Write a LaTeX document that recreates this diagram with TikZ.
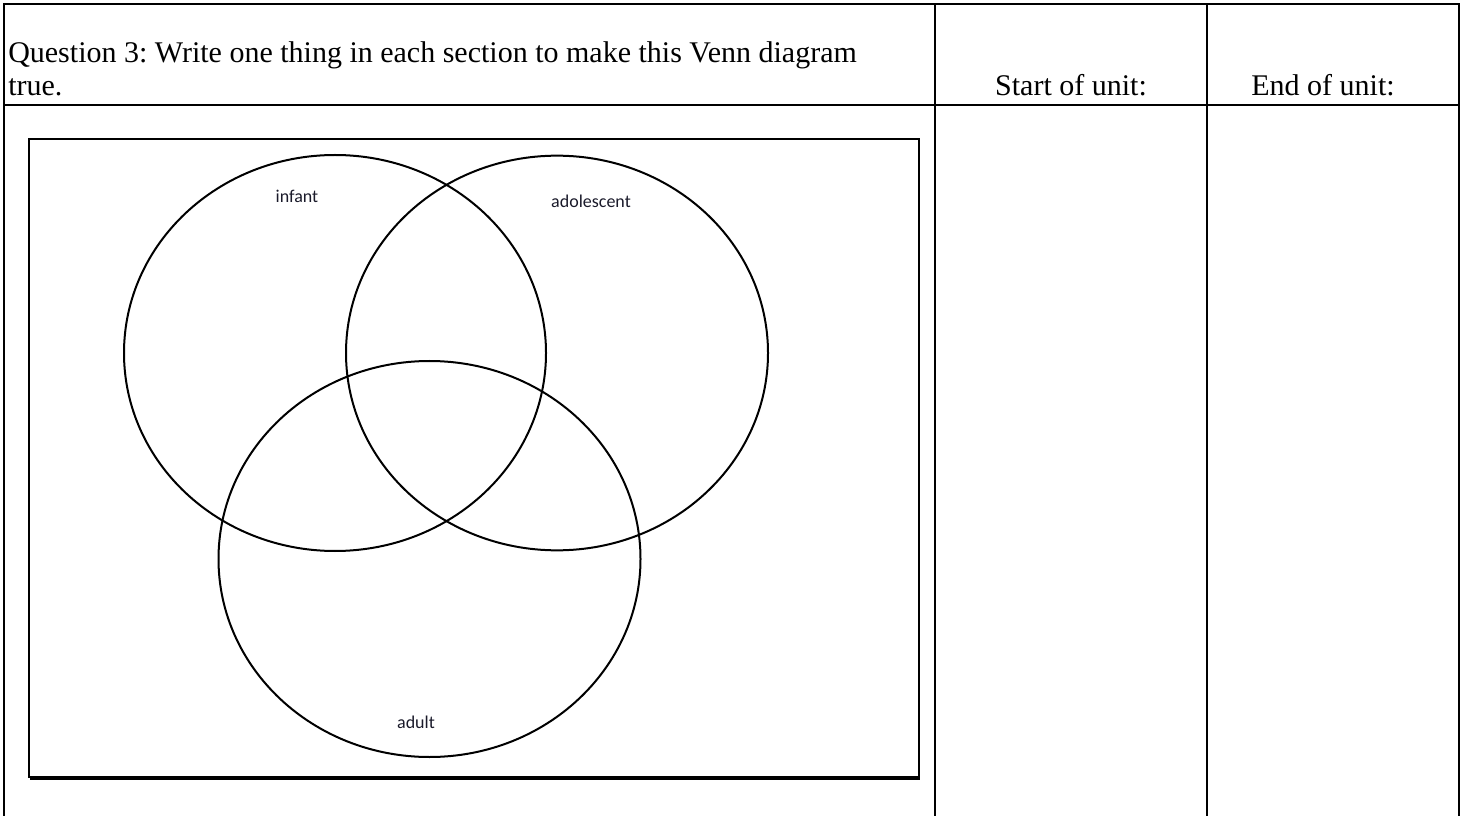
\documentclass[tikz,border=0pt]{standalone}
\usepackage{fontspec}
\setmainfont{Liberation Serif}
\newfontfamily\lblfont{Carlito}
\usepackage{xcolor}
\definecolor{wsInk}{HTML}{000000}
\definecolor{wsLabel}{HTML}{1A1A2A}
\frenchspacing
\tikzset{
  rule/.style={draw=wsInk, line width=1.6pt},
  ring/.style={draw=wsInk, line width=1.5pt},
  head/.style={font=\fontsize{22.5}{27}\selectfont, inner sep=0pt, anchor=base west},
  lbl/.style={font=\lblfont\fontsize{13.5}{16}\selectfont, text=wsLabel, inner sep=0pt, anchor=base},
}

\begin{document}
\begin{tikzpicture}[x=0.75pt,y=-0.75pt]
  \useasboundingbox (0,0) rectangle (1463,816);
  % table grid
  \draw[rule] (4,850) -- (4,4) -- (1459,4) -- (1459,850);
  \draw[rule] (4,105) -- (1459,105);
  \draw[rule] (935,4) -- (935,850);
  \draw[rule] (1207,4) -- (1207,850);
  % header texts
  \node[head] (q1) at (8,63) {Question 3: Write one thing in each section to make this Venn diagram};
  \node[head] (q2) at (8,96) {true.};
  \node[head, anchor=base] (start) at (1071,96) {Start of unit:};
  \node[head, anchor=base] (end) at (1323,96) {End of unit:};
  % venn frame
  \draw[draw=wsInk, line width=1.6pt] (29,139) rectangle (919,777);
  \draw[draw=wsInk, line width=1pt] (30,779) -- (920,779);
  % three sets
  \draw[ring] (335,353) ellipse [x radius=158.25pt, y radius=148.5pt];
  \draw[ring] (557,353) ellipse [x radius=158.25pt, y radius=148pt];
  \draw[ring] (429.5,559) ellipse [x radius=158.25pt, y radius=148.5pt];
  % set labels
  \node[lbl] (infant) at (297,203) {infant};
  \node[lbl] (adolescent) at (591,208) {adolescent};
  \node[lbl] (adult) at (416,728) {adult};
\end{tikzpicture}
\end{document}
